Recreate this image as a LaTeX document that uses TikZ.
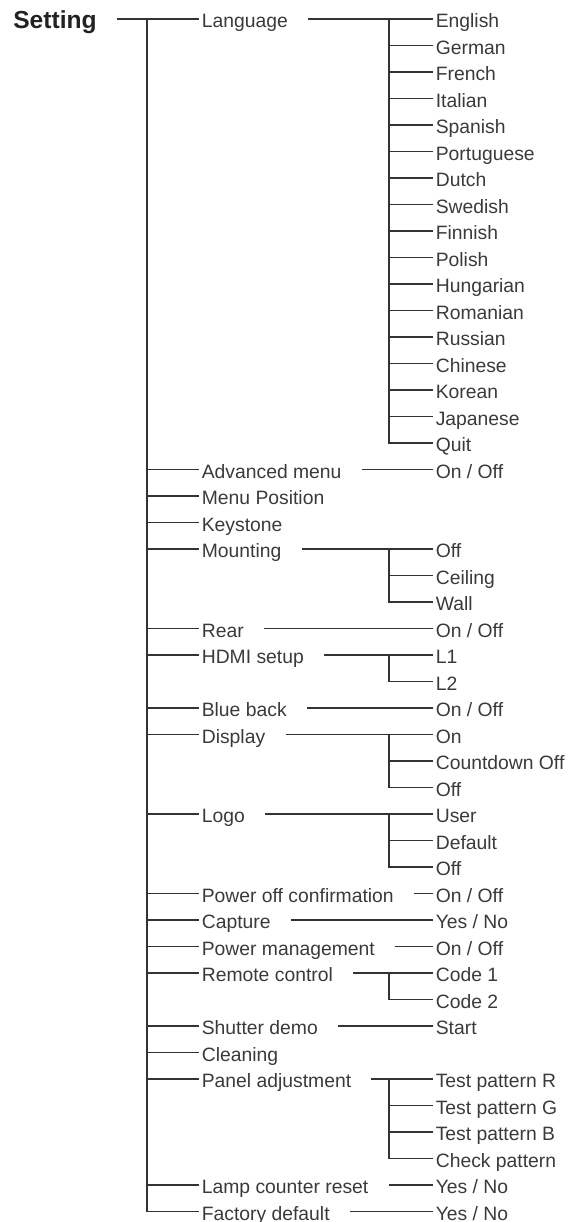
\documentclass[tikz,border=0pt]{standalone}
\usepackage{fontspec}
\setmainfont{Liberation Sans}
\usepackage{xcolor}
\usetikzlibrary{calc, positioning}
\definecolor{grisTexto}{HTML}{3a3a3a}
\definecolor{grisLinea}{HTML}{333333}
\definecolor{grisTitulo}{HTML}{222222}

\begin{document}
\begin{tikzpicture}[
  % Estilos de nodos
  nodoRaiz/.style={
    anchor=west, inner xsep=1.4pt, inner ysep=0pt,
    text=grisTitulo, font=\bfseries\fontsize{14}{16}\selectfont,
    text height=11.2pt, text depth=0pt
  },
  nodoMenu/.style={
    anchor=west, inner xsep=1.4pt, inner ysep=0pt,
    text=grisTexto, font=\fontsize{11}{13}\selectfont,
    text height=9.8pt, text depth=0pt
  },
  nodoOpcion/.style={
    nodoMenu
  },
  % Estilo de lineas
  linea/.style={
    draw=grisLinea, line width=0.75pt
  }
]
\useasboundingbox (0,0.38) rectangle (11.5,-24.06);

% --- Raiz ---
\node[nodoRaiz] (raiz) at (0.21, 0) {Setting};

% --- Columnas de ramas ---
\coordinate (tronco) at (2.94, 0);
\coordinate (colSub) at (7.78, 0);

% --- Nivel 1 ---
\node[nodoMenu] (mLanguage)  at (3.98, 0)      {Language};
\node[nodoMenu] (mAdvanced)  at (3.98, -9.01)  {Advanced menu};
\node[nodoMenu] (mPosition)  at (3.98, -9.54)  {Menu Position};
\node[nodoMenu] (mKeystone)  at (3.98, -10.07) {Keystone};
\node[nodoMenu] (mMounting)  at (3.98, -10.60) {Mounting};
\node[nodoMenu] (mRear)      at (3.98, -12.19) {Rear};
\node[nodoMenu] (mHdmi)      at (3.98, -12.72) {HDMI setup};
\node[nodoMenu] (mBlue)      at (3.98, -13.78) {Blue back};
\node[nodoMenu] (mDisplay)   at (3.98, -14.31) {Display};
\node[nodoMenu] (mLogo)      at (3.98, -15.90) {Logo};
\node[nodoMenu] (mPowerOff)  at (3.98, -17.49) {Power off confirmation};
\node[nodoMenu] (mCapture)   at (3.98, -18.02) {Capture};
\node[nodoMenu] (mPowerMgmt) at (3.98, -18.55) {Power management};
\node[nodoMenu] (mRemote)    at (3.98, -19.08) {Remote control};
\node[nodoMenu] (mShutter)   at (3.98, -20.14) {Shutter demo};
\node[nodoMenu] (mCleaning)  at (3.98, -20.67) {Cleaning};
\node[nodoMenu] (mPanel)     at (3.98, -21.20) {Panel adjustment};
\node[nodoMenu] (mLamp)      at (3.98, -23.32) {Lamp counter reset};
\node[nodoMenu] (mFactory)   at (3.98, -23.85) {Factory default};

% --- Nivel 2: Language ---
\node[nodoOpcion] (lEnglish)    at (8.66, 0)     {English};
\node[nodoOpcion] (lGerman)     at (8.66, -0.53) {German};
\node[nodoOpcion] (lFrench)     at (8.66, -1.06) {French};
\node[nodoOpcion] (lItalian)    at (8.66, -1.59) {Italian};
\node[nodoOpcion] (lSpanish)    at (8.66, -2.12) {Spanish};
\node[nodoOpcion] (lPortuguese) at (8.66, -2.65) {Portuguese};
\node[nodoOpcion] (lDutch)      at (8.66, -3.18) {Dutch};
\node[nodoOpcion] (lSwedish)    at (8.66, -3.71) {Swedish};
\node[nodoOpcion] (lFinnish)    at (8.66, -4.24) {Finnish};
\node[nodoOpcion] (lPolish)     at (8.66, -4.77) {Polish};
\node[nodoOpcion] (lHungarian)  at (8.66, -5.30) {Hungarian};
\node[nodoOpcion] (lRomanian)   at (8.66, -5.83) {Romanian};
\node[nodoOpcion] (lRussian)    at (8.66, -6.36) {Russian};
\node[nodoOpcion] (lChinese)    at (8.66, -6.89) {Chinese};
\node[nodoOpcion] (lKorean)     at (8.66, -7.42) {Korean};
\node[nodoOpcion] (lJapanese)   at (8.66, -7.95) {Japanese};
\node[nodoOpcion] (lQuit)       at (8.66, -8.48) {Quit};

% --- Nivel 2: resto ---
\node[nodoOpcion] (oAdvanced)  at (8.66, -9.01)  {On / Off};
\node[nodoOpcion] (oMountOff)  at (8.66, -10.60) {Off};
\node[nodoOpcion] (oCeiling)   at (8.66, -11.13) {Ceiling};
\node[nodoOpcion] (oWall)      at (8.66, -11.66) {Wall};
\node[nodoOpcion] (oRear)      at (8.66, -12.19) {On / Off};
\node[nodoOpcion] (oL1)        at (8.66, -12.72) {L1};
\node[nodoOpcion] (oL2)        at (8.66, -13.25) {L2};
\node[nodoOpcion] (oBlue)      at (8.66, -13.78) {On / Off};
\node[nodoOpcion] (oDispOn)    at (8.66, -14.31) {On};
\node[nodoOpcion] (oCountdown) at (8.66, -14.84) {Countdown Off};
\node[nodoOpcion] (oDispOff)   at (8.66, -15.37) {Off};
\node[nodoOpcion] (oUser)      at (8.66, -15.90) {User};
\node[nodoOpcion] (oDefault)   at (8.66, -16.43) {Default};
\node[nodoOpcion] (oLogoOff)   at (8.66, -16.96) {Off};
\node[nodoOpcion] (oPowerOff)  at (8.66, -17.49) {On / Off};
\node[nodoOpcion] (oCapture)   at (8.66, -18.02) {Yes / No};
\node[nodoOpcion] (oPowerMgmt) at (8.66, -18.55) {On / Off};
\node[nodoOpcion] (oCode1)     at (8.66, -19.08) {Code 1};
\node[nodoOpcion] (oCode2)     at (8.66, -19.61) {Code 2};
\node[nodoOpcion] (oStart)     at (8.66, -20.14) {Start};
\node[nodoOpcion] (oTestR)     at (8.66, -21.20) {Test pattern R};
\node[nodoOpcion] (oTestG)     at (8.66, -21.73) {Test pattern G};
\node[nodoOpcion] (oTestB)     at (8.66, -22.26) {Test pattern B};
\node[nodoOpcion] (oCheck)     at (8.66, -22.79) {Check pattern};
\node[nodoOpcion] (oLamp)      at (8.66, -23.32) {Yes / No};
\node[nodoOpcion] (oFactory)   at (8.66, -23.85) {Yes / No};

% --- Raiz -> tronco ---
\draw[linea] ([xshift=0.35cm]raiz.east) -- (mLanguage.west);
\draw[linea] (tronco) |- (mFactory.west);
\foreach \m in {mAdvanced, mPosition, mKeystone, mMounting, mRear, mHdmi,
    mBlue, mDisplay, mLogo, mPowerOff, mCapture, mPowerMgmt, mRemote,
    mShutter, mCleaning, mPanel, mLamp}
  \draw[linea] (tronco |- \m.west) -- (\m.west);

% --- Nivel 1 -> primera opcion ---
\draw[linea] ([xshift=0.35cm]mLanguage.east)  -- (lEnglish.west);
\draw[linea] ([xshift=0.35cm]mAdvanced.east)  -- (oAdvanced.west);
\draw[linea] ([xshift=0.35cm]mMounting.east)  -- (oMountOff.west);
\draw[linea] ([xshift=0.35cm]mRear.east)      -- (oRear.west);
\draw[linea] ([xshift=0.35cm]mHdmi.east)      -- (oL1.west);
\draw[linea] ([xshift=0.35cm]mBlue.east)      -- (oBlue.west);
\draw[linea] ([xshift=0.35cm]mDisplay.east)   -- (oDispOn.west);
\draw[linea] ([xshift=0.35cm]mLogo.east)      -- (oUser.west);
\draw[linea] ([xshift=0.35cm]mPowerOff.east)  -- (oPowerOff.west);
\draw[linea] ([xshift=0.35cm]mCapture.east)   -- (oCapture.west);
\draw[linea] ([xshift=0.35cm]mPowerMgmt.east) -- (oPowerMgmt.west);
\draw[linea] ([xshift=0.35cm]mRemote.east)    -- (oCode1.west);
\draw[linea] ([xshift=0.35cm]mShutter.east)   -- (oStart.west);
\draw[linea] ([xshift=0.35cm]mPanel.east)     -- (oTestR.west);
\draw[linea] ([xshift=0.35cm]mLamp.east)      -- (oLamp.west);
\draw[linea] ([xshift=0.35cm]mFactory.east)   -- (oFactory.west);

% --- Ramas de las opciones ---
\foreach \o in {lGerman, lFrench, lItalian, lSpanish, lPortuguese, lDutch,
    lSwedish, lFinnish, lPolish, lHungarian, lRomanian, lRussian, lChinese,
    lKorean, lJapanese, lQuit}
  \draw[linea] (colSub |- lEnglish.west) |- (\o.west);
\foreach \o in {oCeiling, oWall}
  \draw[linea] (colSub |- oMountOff.west) |- (\o.west);
\draw[linea] (colSub |- oL1.west) |- (oL2.west);
\foreach \o in {oCountdown, oDispOff}
  \draw[linea] (colSub |- oDispOn.west) |- (\o.west);
\foreach \o in {oDefault, oLogoOff}
  \draw[linea] (colSub |- oUser.west) |- (\o.west);
\draw[linea] (colSub |- oCode1.west) |- (oCode2.west);
\foreach \o in {oTestG, oTestB, oCheck}
  \draw[linea] (colSub |- oTestR.west) |- (\o.west);

\end{tikzpicture}
\end{document}
